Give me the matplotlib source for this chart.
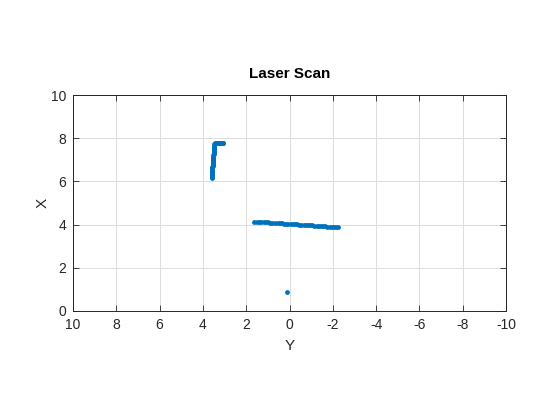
import matplotlib
matplotlib.use('Agg')
import matplotlib.pyplot as plt

plt.rcParams['font.family'] = ['Liberation Sans', 'DejaVu Sans']
plt.rcParams['axes.unicode_minus'] = False

# scan points (Y, X)
corner_y = [3.60, 3.595, 3.59, 3.585, 3.58, 3.58, 3.575, 3.57, 3.565, 3.56, 3.56, 3.555,
            3.55, 3.545, 3.54, 3.54, 3.535, 3.53, 3.525, 3.52, 3.52, 3.515, 3.51, 3.505,
            3.50, 3.495, 3.49, 3.485, 3.48, 3.475, 3.47, 3.47,
            3.44, 3.41, 3.38, 3.35, 3.32, 3.29, 3.26, 3.23, 3.20, 3.17, 3.14, 3.11, 3.08,
            3.05]
corner_x = [6.15, 6.20, 6.25, 6.30, 6.35, 6.40, 6.45, 6.50, 6.55, 6.60, 6.65, 6.70,
            6.75, 6.80, 6.85, 6.90, 6.95, 7.00, 7.05, 7.10, 7.15, 7.20, 7.25, 7.30,
            7.35, 7.40, 7.45, 7.50, 7.55, 7.60, 7.65, 7.72,
            7.80, 7.80, 7.80, 7.80, 7.80, 7.80, 7.80, 7.80, 7.80, 7.80, 7.80, 7.80, 7.80,
            7.80]

wall_y = [1.62, 1.50, 1.40, 1.30, 1.20, 1.10, 1.00, 0.90, 0.82, 0.65, 0.55, 0.45,
          0.35, 0.25, 0.15, 0.05, -0.05, -0.15, -0.25, -0.35, -0.45, -0.55, -0.65,
          -0.75, -0.85, -0.95, -1.05, -1.15, -1.25, -1.35, -1.45, -1.55, -1.65,
          -1.75, -1.85, -1.95, -2.05, -2.15, -2.25]
wall_x = [4.14, 4.13, 4.13, 4.12, 4.12, 4.11, 4.10, 4.09, 4.08, 4.08, 4.07, 4.06,
          4.06, 4.05, 4.04, 4.04, 4.03, 4.02, 4.02, 4.01, 4.00, 3.99, 3.99,
          3.98, 3.97, 3.97, 3.96, 3.95, 3.95, 3.94, 3.93, 3.92, 3.92,
          3.91, 3.90, 3.90, 3.89, 3.88, 3.87]

dot_y = [0.13]
dot_x = [0.89]

scan_y = corner_y + wall_y + dot_y
scan_x = corner_x + wall_x + dot_x

fig = plt.figure(figsize=(5.6, 4.2), dpi=100)
ax = fig.add_axes([73/560, 1 - 311/420, 433/560, 216/420])

ax.scatter(scan_y, scan_x, s=12, color='#0072BD', linewidths=0, snap=False)

ax.set_xlim(10, -10)
ax.set_ylim(0, 10)
ax.set_xticks(range(10, -11, -2))
ax.set_yticks(range(0, 11, 2))
ax.grid(True, color='#dcdcdc', linewidth=0.7)
ax.set_axisbelow(True)
ax.tick_params(direction='in', top=True, right=True, length=4, width=0.6,
               labelsize=10, colors='#262626', pad=5)
for s in ax.spines.values():
    s.set_color('#262626')
    s.set_linewidth(0.7)

ax.set_title('Laser Scan', fontsize=11, fontweight='bold', color='#000000', pad=12)
ax.set_xlabel('Y', fontsize=11, color='#262626', labelpad=5)
ax.set_ylabel('X', fontsize=11, color='#262626', labelpad=1)

fig.savefig('out.png', dpi=100)
